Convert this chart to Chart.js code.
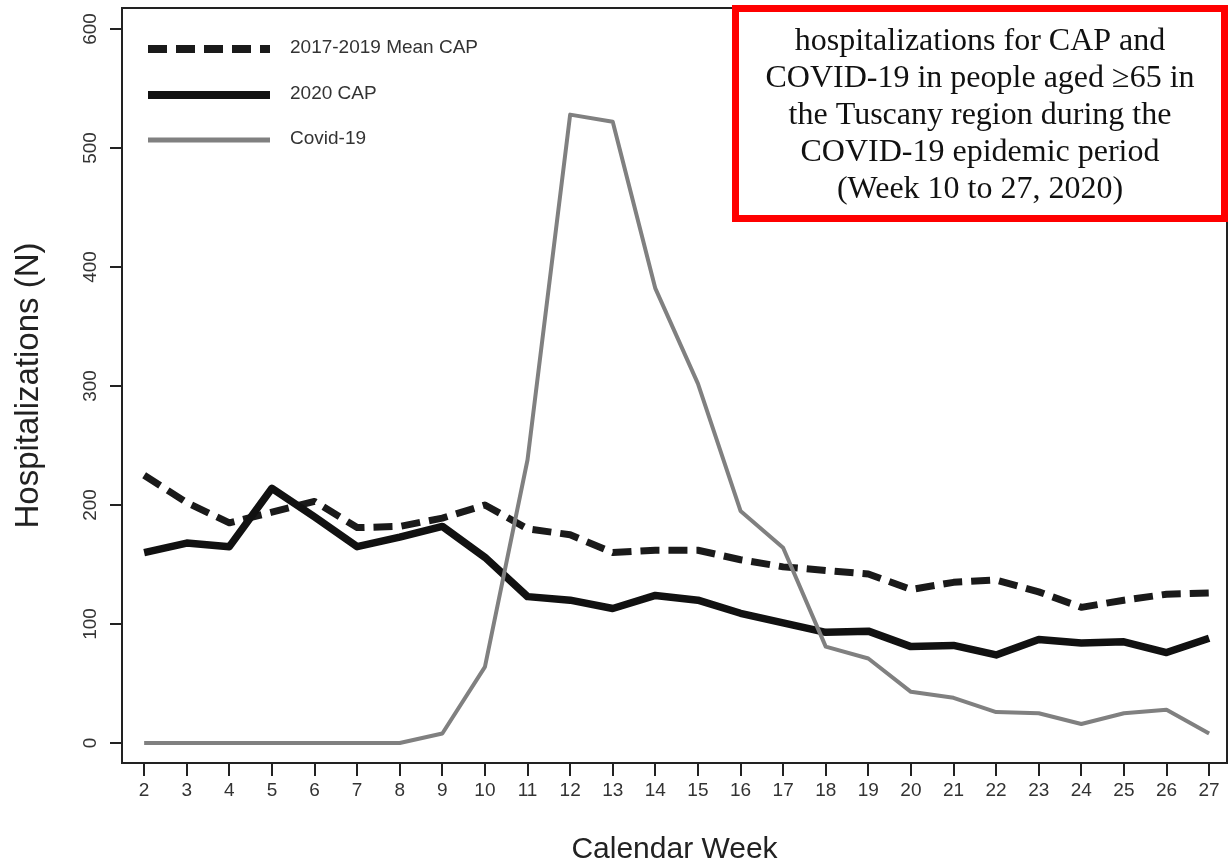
<!DOCTYPE html>
<html>
<head>
<meta charset="utf-8">
<script src="https://cdn.jsdelivr.net/npm/chart.js@4/dist/chart.umd.min.js"></script>
<style>
  html, body { margin: 0; padding: 0; background: #fff; }
  #wrap { width: 1229px; height: 865px; }
</style>
</head>
<body>
<div id="wrap"><canvas id="myChart" width="1229" height="865"></canvas></div>
<script>
// Data
const weeks = [2, 3, 4, 5, 6, 7, 8, 9, 10, 11, 12, 13, 14, 15, 16, 17, 18, 19, 20, 21, 22, 23, 24, 25, 26, 27];
const meanCap = [225, 202, 185, 194, 203, 181, 182, 189, 200, 180, 175, 160, 162, 162, 154, 148, 145, 142, 129, 135, 137, 127, 114, 120, 125, 126];
const cap2020 = [160, 168, 165, 214, 190, 165, 173, 182, 156, 123, 120, 113, 124, 120, 109, 101, 93, 94, 81, 82, 74, 87, 84, 85, 76, 88];
const covid = [0, 0, 0, 0, 0, 0, 0, 8, 64, 238, 528, 522, 382, 302, 195, 164, 81, 71, 43, 38, 26, 25, 16, 25, 28, 8];
const yTicks = [0, 100, 200, 300, 400, 500, 600];
const seriesNames = ['2017-2019 Mean CAP', '2020 CAP', 'Covid-19'];
const noteLines = [
    'hospitalizations for CAP and',
    'COVID-19 in people aged \u226565 in',
    'the Tuscany region during the',
    'COVID-19 epidemic period',
    '(Week 10 to 27, 2020)'
];

const FONT = '"Liberation Sans", Arial, sans-serif';
const toPoints = arr => weeks.map((w, i) => ({ x: w, y: arr[i] }));

// frame, rotated y labels, legend and the red note box
const extras = {
    id: 'extras',
    afterDraw(chart) {
        const ctx = chart.ctx;
        const area = chart.chartArea;
        const yScale = chart.scales.y;
        ctx.save();

        // box around the plot
        ctx.strokeStyle = '#222';
        ctx.lineWidth = 2;
        ctx.strokeRect(area.left, area.top, area.right - area.left, area.bottom - area.top);

        // y tick labels, rotated like R does
        ctx.fillStyle = '#333';
        ctx.font = '19px ' + FONT;
        ctx.textAlign = 'center';
        ctx.textBaseline = 'middle';
        yTicks.forEach(v => {
            ctx.save();
            ctx.translate(91, yScale.getPixelForValue(v));
            ctx.rotate(-Math.PI / 2);
            ctx.fillText(String(v), 0, 0);
            ctx.restore();
        });

        // legend
        const legendY = [49, 95, 140];
        chart.data.datasets.forEach((ds, i) => {
            ctx.beginPath();
            ctx.strokeStyle = ds.borderColor;
            ctx.lineWidth = i === 2 ? 5 : 8;
            ctx.setLineDash(ds.borderDash || []);
            ctx.lineCap = 'butt';
            ctx.moveTo(148, legendY[i]);
            ctx.lineTo(270, legendY[i]);
            ctx.stroke();
            ctx.setLineDash([]);
            ctx.fillStyle = '#333';
            ctx.textAlign = 'left';
            ctx.fillText(ds.label, 290, legendY[i] - 1);
        });

        // red note box
        ctx.fillStyle = '#fff';
        ctx.fillRect(735.5, 8.5, 489, 210);
        ctx.strokeStyle = '#f00';
        ctx.lineWidth = 7;
        ctx.strokeRect(735.5, 8.5, 489, 210);
        ctx.fillStyle = '#111';
        ctx.font = '32px "Liberation Serif", "Times New Roman", serif';
        ctx.textAlign = 'center';
        noteLines.forEach((t, i) => ctx.fillText(t, 980, 42 + i * 36.8));

        ctx.restore();
    }
};

const ctx = document.getElementById('myChart').getContext('2d');
const myChart = new Chart(ctx, {
    type: 'line',
    data: {
        datasets: [{
            label: seriesNames[0],
            data: toPoints(meanCap),
            borderColor: '#1a1a1a',
            borderWidth: 7,
            borderDash: [19, 9],
            order: 2
        }, {
            label: seriesNames[1],
            data: toPoints(cap2020),
            borderColor: '#111',
            borderWidth: 7.5,
            order: 1
        }, {
            label: seriesNames[2],
            data: toPoints(covid),
            borderColor: '#808080',
            borderWidth: 4,
            order: 0
        }]
    },
    options: {
        responsive: false,
        animation: false,
        layout: { padding: { top: 8, right: 2, left: 0, bottom: 0 } },
        elements: {
            point: { radius: 0 },
            line: { tension: 0, borderJoinStyle: 'round', borderCapStyle: 'butt' }
        },
        plugins: {
            legend: { display: false },
            tooltip: { enabled: false }
        },
        scales: {
            x: {
                type: 'linear',
                min: 1.48,
                max: 27.42,
                afterBuildTicks: scale => { scale.ticks = weeks.map(v => ({ value: v })); },
                afterFit: scale => { scale.height = 102; },
                grid: { drawOnChartArea: false, drawTicks: true, tickLength: 13, color: '#222', lineWidth: 2 },
                border: { display: false },
                ticks: {
                    color: '#333',
                    font: { family: FONT, size: 19 },
                    padding: 3,
                    maxRotation: 0,
                    autoSkip: false
                },
                title: {
                    display: true,
                    text: 'Calendar Week',
                    color: '#222',
                    font: { family: FONT, size: 30, lineHeight: 1 },
                    padding: { top: 0, bottom: 0.5 }
                }
            },
            y: {
                min: -16.8,
                max: 617.6,
                afterBuildTicks: scale => { scale.ticks = yTicks.map(v => ({ value: v })); },
                afterFit: scale => { scale.width = 122; },
                grid: { drawOnChartArea: false, drawTicks: true, tickLength: 12, color: '#222', lineWidth: 2 },
                border: { display: false },
                ticks: { display: false },
                title: {
                    display: true,
                    text: 'Hospitalizations (N)',
                    color: '#222',
                    font: { family: FONT, size: 33, lineHeight: 1 },
                    padding: { top: 12, bottom: 0 }
                }
            }
        }
    },
    plugins: [extras]
});
</script>
</body>
</html>
